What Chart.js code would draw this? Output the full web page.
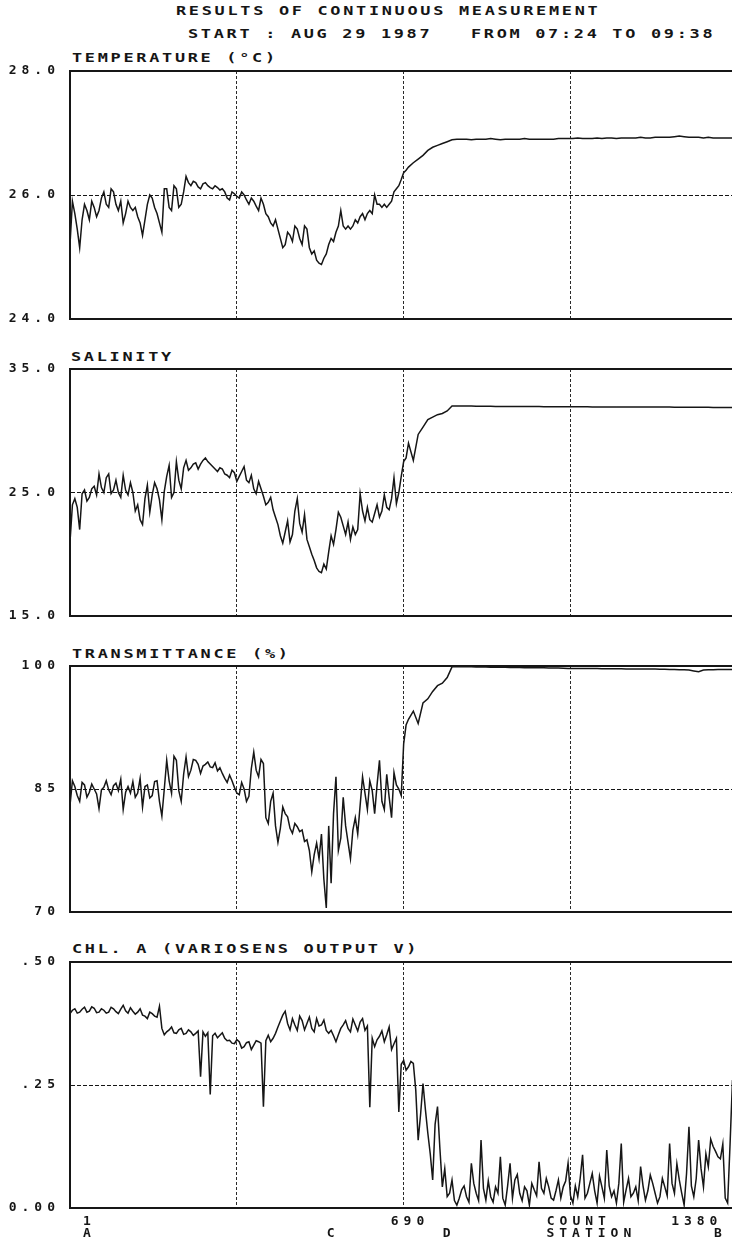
<!DOCTYPE html>
<html><head><meta charset="utf-8">
<script src="https://cdn.jsdelivr.net/npm/chart.js@4"></script>
<style>
html,body{margin:0;padding:0;background:#fff;overflow:hidden;width:732px;height:1243px;position:relative;}
.t{position:absolute;font-family:'DejaVu Sans Mono',monospace;font-weight:bold;font-size:12.5px;letter-spacing:2px;line-height:14px;color:#151515;white-space:pre;transform:scaleX(1.35);transform-origin:0 0;}
canvas{position:absolute;left:0;}
</style></head><body>
<div class="t" style="left:176px;top:4px">RESULTS OF CONTINUOUS MEASUREMENT</div>
<div class="t" style="left:188px;top:27px">START : AUG 29 1987   FROM 07:24 TO 09:38</div>
<div class="t" style="left:72px;top:51px">TEMPERATURE (°C)</div>
<div class="t" style="left:71px;top:350px">SALINITY</div>
<div class="t" style="left:72px;top:647px">TRANSMITTANCE (%)</div>
<div class="t" style="left:72px;top:942px">CHL. A (VARIOSENS OUTPUT V)</div>
<canvas id="c1" width="732" height="288" style="top:51px"></canvas>
<canvas id="c2" width="732" height="287" style="top:349px"></canvas>
<canvas id="c3" width="732" height="286" style="top:646px"></canvas>
<canvas id="c4" width="732" height="298" style="top:942px"></canvas>
<script>
// sample positions (count) for temperature, salinity, transmittance
const countsA = [0,5,10,15,20,25,30,35,40,45,50,55,60,65,70,75,80,85,90,95,
100,105,110,115,120,125,130,135,140,145,150,155,160,165,170,175,180,185,190,195,
200,205,210,215,220,225,230,235,240,245,250,255,260,265,270,275,280,285,290,295,
300,305,310,315,320,325,330,335,340,345,350,355,360,365,370,375,380,385,390,395,
400,405,410,415,420,425,430,435,440,445,450,455,460,465,470,475,480,485,490,495,
500,505,510,515,520,525,530,535,540,545,550,555,560,565,570,575,580,585,590,595,
600,605,610,615,620,625,630,635,640,645,650,655,660,665,670,675,680,685,690,695,700,
710,720,730,740,750,760,770,780,790,
800,810,820,830,840,850,860,870,880,890,900,910,920,930,940,950,960,970,980,990,
1000,1010,1020,1030,1040,1050,1060,1070,1080,1090,1100,1110,1120,1130,1140,1150,1160,1170,1180,1190,
1200,1210,1220,1230,1240,1250,1260,1270,1280,1290,1300,1310,1320,1330,1340,1350,1360,1370];

// sample positions (count) for chlorophyll
const countsB = [0,5,10,15,20,25,30,35,40,45,50,55,60,65,70,75,80,85,90,95,
100,105,110,115,120,125,130,135,140,145,150,155,160,165,170,175,180,185,190,195,
200,205,210,215,220,225,230,235,240,245,250,255,260,265,270,275,280,285,290,295,
300,305,310,315,320,325,330,335,340,345,350,355,360,365,370,375,380,385,390,395,
400,405,410,415,420,425,430,435,440,445,450,455,460,465,470,475,480,485,490,495,
500,505,510,515,520,525,530,535,540,545,550,555,560,565,570,575,580,585,590,595,
600,605,610,615,620,625,630,635,640,645,650,655,660,665,670,675,680,685,690,695,
700,705,710,715,720,725,730,735,740,745,750,755,760,765,770,775,780,785,790,795,
800,805,810,815,820,825,830,835,840,845,850,855,860,865,870,875,880,885,890,895,
900,905,910,915,920,925,930,935,940,945,950,955,960,965,970,975,980,985,990,995,
1000,1005,1010,1015,1020,1025,1030,1035,1040,1045,1050,1055,1060,1065,1070,1075,1080,1085,1090,1095,
1100,1105,1110,1115,1120,1125,1130,1135,1140,1145,1150,1155,1160,1165,1170,1175,1180,1185,1190,1195,
1200,1205,1210,1215,1220,1225,1230,1235,1240,1245,1250,1255,1260,1265,1270,1275,1280,1285,1290,1295,
1300,1305,1310,1315,1320,1325,1330,1335,1340,1345,1350,1355,1360,1365,1370];

const temperature = [25.2,25.9,25.7,25.45,25.15,25.6,25.85,25.75,25.6,25.9,
25.8,25.65,25.75,25.95,26.05,25.85,25.8,26.1,26.05,25.85,
25.75,25.9,25.55,25.7,25.9,25.8,25.75,25.8,25.65,25.55,
25.35,25.6,25.85,26.0,25.95,25.8,25.7,25.55,25.4,26.1,
26.1,25.8,25.75,26.15,26.1,25.8,25.85,26.05,26.3,26.2,
26.15,26.22,26.2,26.13,26.1,26.18,26.2,26.15,26.12,26.1,
26.15,26.12,26.08,26.1,26.05,25.95,25.92,26.05,26.02,25.98,
25.95,26.05,26.0,25.92,25.85,25.95,25.9,25.82,25.75,25.95,
25.85,25.7,25.65,25.55,25.5,25.6,25.45,25.3,25.15,25.2,
25.4,25.35,25.25,25.5,25.45,25.3,25.2,25.5,25.45,25.15,
25.05,25.1,24.95,24.9,24.88,24.98,25.05,25.2,25.3,25.25,
25.4,25.5,25.75,25.5,25.45,25.5,25.45,25.5,25.6,25.55,
25.65,25.7,25.6,25.7,25.75,25.7,26.0,25.85,25.85,25.8,
25.85,25.8,25.85,25.9,26.05,26.1,26.15,26.25,26.36,26.4,26.45,
26.52,26.58,26.64,26.72,26.77,26.8,26.83,26.86,26.89,
26.9,26.9,26.9,26.89,26.9,26.9,26.9,26.91,26.9,26.89,
26.9,26.9,26.9,26.9,26.91,26.9,26.9,26.9,26.9,26.9,
26.9,26.91,26.91,26.91,26.91,26.92,26.91,26.91,26.91,26.92,
26.91,26.92,26.92,26.91,26.92,26.92,26.92,26.92,26.93,26.92,
26.92,26.93,26.93,26.93,26.93,26.94,26.95,26.94,26.93,26.93,
26.93,26.92,26.93,26.92,26.92,26.92,26.92,26.92];

const salinity = [21.0,24.0,24.5,23.8,22.0,24.9,25.2,24.3,24.6,25.3,
25.5,24.8,26.5,25.4,25.0,26.2,26.5,24.9,25.2,26.0,
25.0,24.6,26.4,25.2,24.8,25.8,25.0,23.5,24.0,22.8,
22.4,24.5,25.6,23.4,24.8,25.8,25.3,24.4,22.8,25.1,
26.3,27.2,24.6,25.0,27.5,26.0,25.3,27.0,27.6,26.8,
27.0,27.3,27.4,26.9,27.3,27.6,27.8,27.5,27.3,27.1,
26.9,26.7,27.0,26.9,26.5,26.4,26.2,26.8,26.6,25.9,
26.3,26.7,27.1,26.0,25.8,26.4,25.3,24.9,25.9,25.3,
24.7,24.0,24.2,24.6,23.6,23.0,22.4,21.5,20.9,21.8,
22.7,21.0,21.6,23.5,24.5,22.5,21.8,23.2,21.2,20.6,
20.0,19.5,18.9,18.6,18.5,19.2,18.8,20.2,21.5,20.8,
22.0,23.4,23.0,22.3,21.6,22.6,21.2,22.2,21.6,22.0,
24.9,23.5,22.7,23.8,22.8,22.6,23.3,24.0,23.0,23.5,
24.8,23.8,23.6,24.5,26.2,24.1,25.0,26.3,27.5,27.8,29.0,
27.6,29.7,30.3,30.9,31.1,31.3,31.4,31.6,32.0,
32.0,32.0,32.0,32.0,31.98,31.98,31.98,31.98,31.97,31.97,
31.97,31.97,31.97,31.96,31.96,31.96,31.96,31.96,31.95,31.95,
31.95,31.95,31.95,31.94,31.94,31.94,31.94,31.94,31.93,31.93,
31.93,31.93,31.93,31.92,31.92,31.92,31.92,31.92,31.92,31.92,
31.93,31.93,31.92,31.92,31.92,31.91,31.91,31.91,31.9,31.9,
31.9,31.9,31.9,31.89,31.89,31.89,31.88,31.88];

const transmittance = [83.0,86.0,85.3,84.2,83.5,85.8,85.5,84.0,84.6,85.6,
85.0,84.4,82.6,84.9,85.2,86.0,84.9,84.3,85.4,85.7,
84.8,86.2,82.5,84.6,85.3,84.5,85.9,84.0,84.5,86.3,
82.8,85.3,85.5,83.9,84.2,85.9,86.0,83.5,81.7,85.0,
88.5,86.0,84.5,89.0,88.5,84.8,83.5,86.8,88.9,86.5,
87.3,88.6,88.5,88.0,86.9,87.8,88.0,88.3,87.7,87.6,
88.2,87.2,87.6,86.9,86.3,85.8,86.7,86.0,85.2,84.5,
84.3,85.8,85.0,83.5,84.1,87.5,89.5,87.3,86.5,88.6,
88.1,81.5,80.8,83.5,84.5,80.5,78.5,80.2,82.8,82.0,
81.6,80.2,79.6,80.8,80.4,79.8,80.0,78.6,78.8,77.5,
74.9,77.0,78.4,76.5,79.5,74.0,70.5,80.5,73.5,82.0,
86.5,77.5,79.0,84.0,80.5,78.5,76.5,80.0,81.5,79.5,
83.0,86.5,84.5,82.5,86.0,84.8,82.0,85.5,88.5,83.5,
82.5,86.8,84.0,81.5,87.0,85.5,85.0,84.2,90.5,92.8,93.5,
94.5,93.0,95.5,96.0,96.9,97.6,97.9,98.6,99.9,
99.9,99.9,99.9,99.9,99.88,99.88,99.88,99.85,99.85,99.85,
99.85,99.82,99.82,99.82,99.8,99.8,99.8,99.78,99.78,99.75,
99.75,99.75,99.72,99.7,99.7,99.7,99.7,99.68,99.68,99.68,
99.66,99.66,99.65,99.65,99.65,99.64,99.64,99.63,99.63,99.62,
99.62,99.62,99.6,99.6,99.58,99.58,99.55,99.55,99.5,99.4,
99.3,99.5,99.55,99.55,99.56,99.56,99.57,99.57];

const chlorophyll = [0.395,0.402,0.405,0.396,0.398,0.404,0.408,0.398,0.40,0.409,
0.406,0.397,0.398,0.405,0.402,0.396,0.398,0.408,0.405,0.399,
0.395,0.404,0.412,0.401,0.396,0.407,0.40,0.394,0.398,0.405,
0.392,0.39,0.385,0.398,0.395,0.39,0.388,0.41,0.365,0.352,
0.358,0.362,0.368,0.356,0.355,0.362,0.365,0.353,0.355,0.362,
0.358,0.351,0.355,0.36,0.267,0.358,0.349,0.356,0.231,0.35,
0.355,0.346,0.351,0.356,0.345,0.34,0.341,0.335,0.334,0.342,
0.338,0.325,0.328,0.336,0.338,0.322,0.331,0.34,0.338,0.335,
0.206,0.34,0.351,0.338,0.345,0.355,0.368,0.38,0.392,0.4,
0.375,0.362,0.385,0.372,0.361,0.39,0.381,0.362,0.375,0.388,
0.365,0.358,0.385,0.37,0.372,0.382,0.361,0.355,0.361,0.35,
0.338,0.352,0.365,0.372,0.381,0.365,0.358,0.384,0.372,0.36,
0.378,0.385,0.361,0.37,0.205,0.345,0.328,0.342,0.349,0.36,
0.338,0.352,0.368,0.322,0.334,0.345,0.195,0.292,0.30,0.28,
0.287,0.298,0.294,0.24,0.138,0.19,0.253,0.2,0.152,0.11,
0.057,0.17,0.206,0.12,0.043,0.08,0.023,0.03,0.057,0.015,
0.006,0.02,0.037,0.045,0.023,0.012,0.091,0.05,0.03,0.015,
0.138,0.04,0.016,0.055,0.023,0.012,0.043,0.03,0.104,0.02,
0.006,0.045,0.091,0.02,0.057,0.068,0.03,0.015,0.043,0.035,
0.006,0.05,0.037,0.025,0.094,0.04,0.03,0.06,0.043,0.02,
0.016,0.035,0.057,0.02,0.043,0.055,0.091,0.025,0.01,0.045,
0.023,0.06,0.108,0.02,0.03,0.05,0.07,0.035,0.01,0.065,
0.043,0.02,0.118,0.045,0.023,0.035,0.01,0.05,0.131,0.012,
0.037,0.06,0.023,0.03,0.043,0.015,0.084,0.045,0.016,0.035,
0.067,0.05,0.03,0.01,0.023,0.06,0.043,0.025,0.131,0.05,
0.03,0.09,0.057,0.03,0.006,0.07,0.165,0.045,0.023,0.06,
0.138,0.08,0.043,0.11,0.084,0.14,0.125,0.115,0.104,0.1,
0.13,0.02,0.01,0.13,0.26];

// axes
const xMin = 0, xMax = 1369;
const xGridCounts = [345, 690, 1035];
const tempTicks = [24, 26, 28],      tempLabels = ['24.0', '26.0', '28.0'];
const salTicks = [15, 25, 35],       salLabels = ['15.0', '25.0', '35.0'];
const transTicks = [70, 85, 100],    transLabels = ['70', '85', '100'];
const chlTicks = [0, 0.25, 0.5],     chlLabels = ['0.00', '.25', '.50'];
const xLabelCounts = [35, 539, 698, 779, 1047, 1073, 1291, 1340];
const xLabelRow1 = ['1', '', '690', '', 'COUNT', '', '1380', ''];
const xLabelRow2 = ['A', 'C', '', 'D', '', 'STATION', '', 'B'];

const INK = '#161616';
const FONT = {family: "'DejaVu Sans Mono', monospace", size: 13, weight: 'bold', lineHeight: 0.92};

const spacing = {
  id: 'spacing',
  beforeDraw(chart) { chart.ctx.letterSpacing = '5px'; },
  afterDraw(chart) { chart.ctx.letterSpacing = '0px'; }
};

function panel(id, xs, values, yTicks, yLabels, showX) {
  const cfg = {
    type: 'line',
    data: { datasets: [{
      data: xs.map((c, i) => ({x: c, y: values[i]})),
      borderColor: INK, borderWidth: 1.5, pointRadius: 0, tension: 0, fill: false
    }]},
    options: {
      responsive: false, animation: false, devicePixelRatio: 1, events: [],
      layout: { padding: { top: 20, bottom: showX ? 0 : 20, left: 0, right: 0 } },
      plugins: { legend: {display: false}, tooltip: {enabled: false}, title: {display: false} },
      scales: {
        xg: {
          type: 'linear', position: 'top', min: xMin, max: xMax,
          afterBuildTicks: s => { s.ticks = xGridCounts.map(v => ({value: v})); },
          afterFit: s => { s.height = 0; },
          ticks: {display: false},
          grid: {display: true, drawTicks: false, color: '#2a2a2a', lineWidth: 1},
          border: {display: false, dash: [3, 2]}
        },
        x: {
          type: 'linear', position: 'bottom', min: xMin, max: xMax, display: showX,
          afterBuildTicks: s => { s.ticks = xLabelCounts.map(v => ({value: v})); },
          afterFit: s => { s.height = showX ? 32 : 0; },
          ticks: {
            autoSkip: false, maxRotation: 0, minRotation: 0, padding: 8, labelOffset: 2.5,
            color: INK, font: FONT,
            callback: (v, i) => [xLabelRow1[i], xLabelRow2[i]]
          },
          grid: {display: false, drawTicks: false},
          border: {display: false}
        },
        y: {
          type: 'linear', min: yTicks[0], max: yTicks[2],
          afterBuildTicks: s => { s.ticks = yTicks.map(v => ({value: v})); },
          afterFit: s => { s.width = 70; },
          ticks: { color: INK, font: FONT, padding: 10, callback: (v, i) => yLabels[i] },
          grid: { drawTicks: false, color: INK, lineWidth: c => (c.index === 1 ? 1 : 2) },
          border: { display: true, color: INK, width: 2,
                    dash: c => (c.type === 'tick' && c.index === 1 ? [4, 2] : []) }
        }
      }
    },
    plugins: [spacing]
  };
  return new Chart(document.getElementById(id), cfg);
}

panel('c1', countsA, temperature, tempTicks, tempLabels, false);
panel('c2', countsA, salinity, salTicks, salLabels, false);
panel('c3', countsA, transmittance, transTicks, transLabels, false);
panel('c4', countsB, chlorophyll, chlTicks, chlLabels, true);
</script>
</body></html>
